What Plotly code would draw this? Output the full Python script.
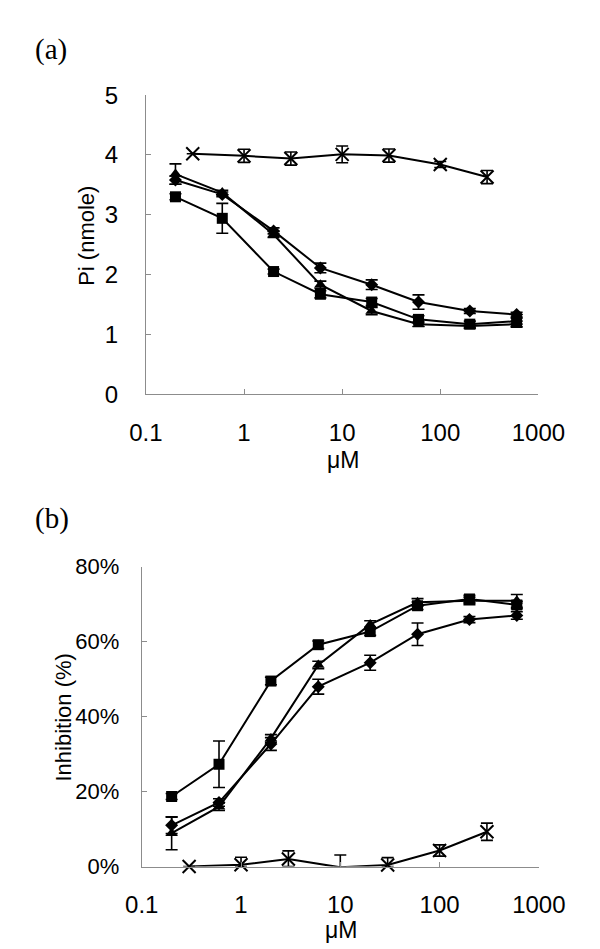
import plotly.graph_objects as go

# ---------------- data ----------------
conc = [0.2, 0.6, 2, 6, 20, 60, 200, 600]
conc_ctrl = [0.3, 1, 3, 10, 30, 100, 300]
tick_vals = [0.1, 1, 10, 100, 1000]
tick_text = ["0.1", "1", "10", "100", "1000"]

# panel (a): Pi (nmole)
a_diamond = [3.58, 3.34, 2.73, 2.11, 1.83, 1.54, 1.39, 1.33]
a_diamond_err = [0.07, 0.04, 0.05, 0.08, 0.08, 0.12, 0.04, 0.04]
a_square = [3.30, 2.94, 2.05, 1.67, 1.54, 1.25, 1.17, 1.22]
a_square_err = [0.05, 0.25, 0.04, 0.06, 0.06, 0.06, 0.05, 0.05]
a_triangle = [3.68, 3.37, 2.67, 1.83, 1.39, 1.17, 1.14, 1.17]
a_triangle_err = [0.17, 0.04, 0.05, 0.06, 0.06, 0.04, 0.04, 0.05]
a_cross = [4.02, 3.985, 3.94, 4.01, 3.99, 3.84, 3.63]
a_cross_err = [0, 0.11, 0.11, 0.14, 0.11, 0.05, 0.11]

# panel (b): Inhibition (%)
b_diamond = [0.11, 0.171, 0.327, 0.48, 0.544, 0.62, 0.659, 0.67]
b_diamond_err = [0.022, 0.01, 0.017, 0.02, 0.02, 0.03, 0.008, 0.01]
b_square = [0.187, 0.273, 0.495, 0.592, 0.627, 0.696, 0.714, 0.698]
b_square_err = [0.008, 0.062, 0.01, 0.01, 0.01, 0.01, 0.01, 0.01]
b_triangle = [0.089, 0.16, 0.342, 0.538, 0.646, 0.705, 0.709, 0.709]
b_triangle_err = [0.044, 0.01, 0.01, 0.01, 0.01, 0.01, 0.01, 0.017]
b_cross = [0.0, 0.005, 0.02, -0.002, 0.004, 0.043, 0.093]
b_cross_err_plus = [0, 0.02, 0.022, 0.033, 0.02, 0.015, 0.023]
b_cross_err_minus = [0, 0.005, 0.02, 0.0, 0.004, 0.015, 0.023]

# ---------------- figure ----------------
W, H = 600, 949
fig = go.Figure()

FONT = "Liberation Sans, Arial, sans-serif"
SERIF = "Liberation Serif, Times New Roman, serif"
AXC = "#8c8c8c"


def add_series(x, y, err, symbol, size, xa, ya, errm=None, lw_marker=0):
    e = dict(type="data", array=err, visible=True, color="black",
             thickness=1.6, width=6)
    if errm is not None:
        e["symmetric"] = False
        e["arrayminus"] = errm
    fig.add_trace(go.Scatter(
        x=x, y=y, mode="lines+markers", xaxis=xa, yaxis=ya,
        line=dict(color="black", width=2),
        marker=dict(symbol=symbol, size=size, color="black",
                    line=dict(color="black", width=lw_marker)),
        error_y=e, cliponaxis=False, showlegend=False))


# panel (a)
add_series(conc, a_diamond, a_diamond_err, "diamond", 10, "x", "y")
add_series(conc, a_square, a_square_err, "square", 11, "x", "y")
add_series(conc, a_triangle, a_triangle_err, "triangle-up", 11, "x", "y")
add_series(conc_ctrl, a_cross, a_cross_err, "x-thin", 13, "x", "y", lw_marker=2)

# panel (b)
add_series(conc, b_diamond, b_diamond_err, "diamond", 10, "x2", "y2")
add_series(conc, b_square, b_square_err, "square", 11, "x2", "y2")
add_series(conc, b_triangle, b_triangle_err, "triangle-up", 11, "x2", "y2")
add_series(conc_ctrl, b_cross, b_cross_err_plus, "x-thin", 13, "x2", "y2",
           errm=b_cross_err_minus, lw_marker=2)


def px_x(p):
    return p / W


def px_y(p):
    return 1 - p / H


xcommon = dict(type="log", range=[-1, 3], tickvals=tick_vals, ticktext=tick_text,
               showline=True, linecolor=AXC, linewidth=1, ticks="inside",
               ticklen=5, tickcolor=AXC, showgrid=False, zeroline=False,
               tickfont=dict(family=FONT, size=24, color="black"),
               ticklabelstandoff=17)
ycommon = dict(showline=True, linecolor=AXC, linewidth=1, ticks="inside",
               ticklen=5, tickcolor=AXC, showgrid=False, zeroline=False)

fig.update_layout(
    width=W, height=H, margin=dict(l=0, r=0, t=0, b=0),
    paper_bgcolor="white", plot_bgcolor="white",
    xaxis=dict(domain=[px_x(130.5), px_x(554)], anchor="y", **xcommon),
    yaxis=dict(domain=[px_y(383), px_y(75.3)], anchor="x", range=[0, 5],
               tickvals=[0, 1, 2, 3, 4, 5], ticklabelstandoff=22,
               tickfont=dict(family=FONT, size=24, color="black"), **ycommon),
    xaxis2=dict(domain=[px_x(126), px_x(554.5)], anchor="y2", **xcommon),
    yaxis2=dict(domain=[px_y(869.3), px_y(560.7)], anchor="x2", range=[0, 0.8],
                tickvals=[0, 0.2, 0.4, 0.6, 0.8], tickformat=".0%",
                ticklabelstandoff=17,
                tickfont=dict(family=FONT, size=22, color="black"), **ycommon),
)

ann = [
    dict(text="(a)", x=px_x(9), y=px_y(28), xanchor="left", yanchor="middle",
         font=dict(family=SERIF, size=29)),
    dict(text="(b)", x=px_x(9), y=px_y(511), xanchor="left", yanchor="middle",
         font=dict(family=SERIF, size=29)),
    dict(text="Pi (nmole)", x=px_x(67), y=px_y(220), textangle=-90,
         xanchor="center", yanchor="middle", font=dict(family=FONT, size=22)),
    dict(text="Inhibition (%)", x=px_x(42), y=px_y(716), textangle=-90,
         xanchor="center", yanchor="middle", font=dict(family=FONT, size=22)),
    dict(text="μM", x=px_x(343), y=px_y(451), xanchor="center", yanchor="middle",
         font=dict(family=FONT, size=23)),
    dict(text="μM", x=px_x(341), y=px_y(935), xanchor="center", yanchor="middle",
         font=dict(family=FONT, size=23)),
]
for a in ann:
    a.update(xref="paper", yref="paper", showarrow=False)
    a["font"]["color"] = "black"
fig.update_layout(annotations=ann)

fig.write_html("out.html")
